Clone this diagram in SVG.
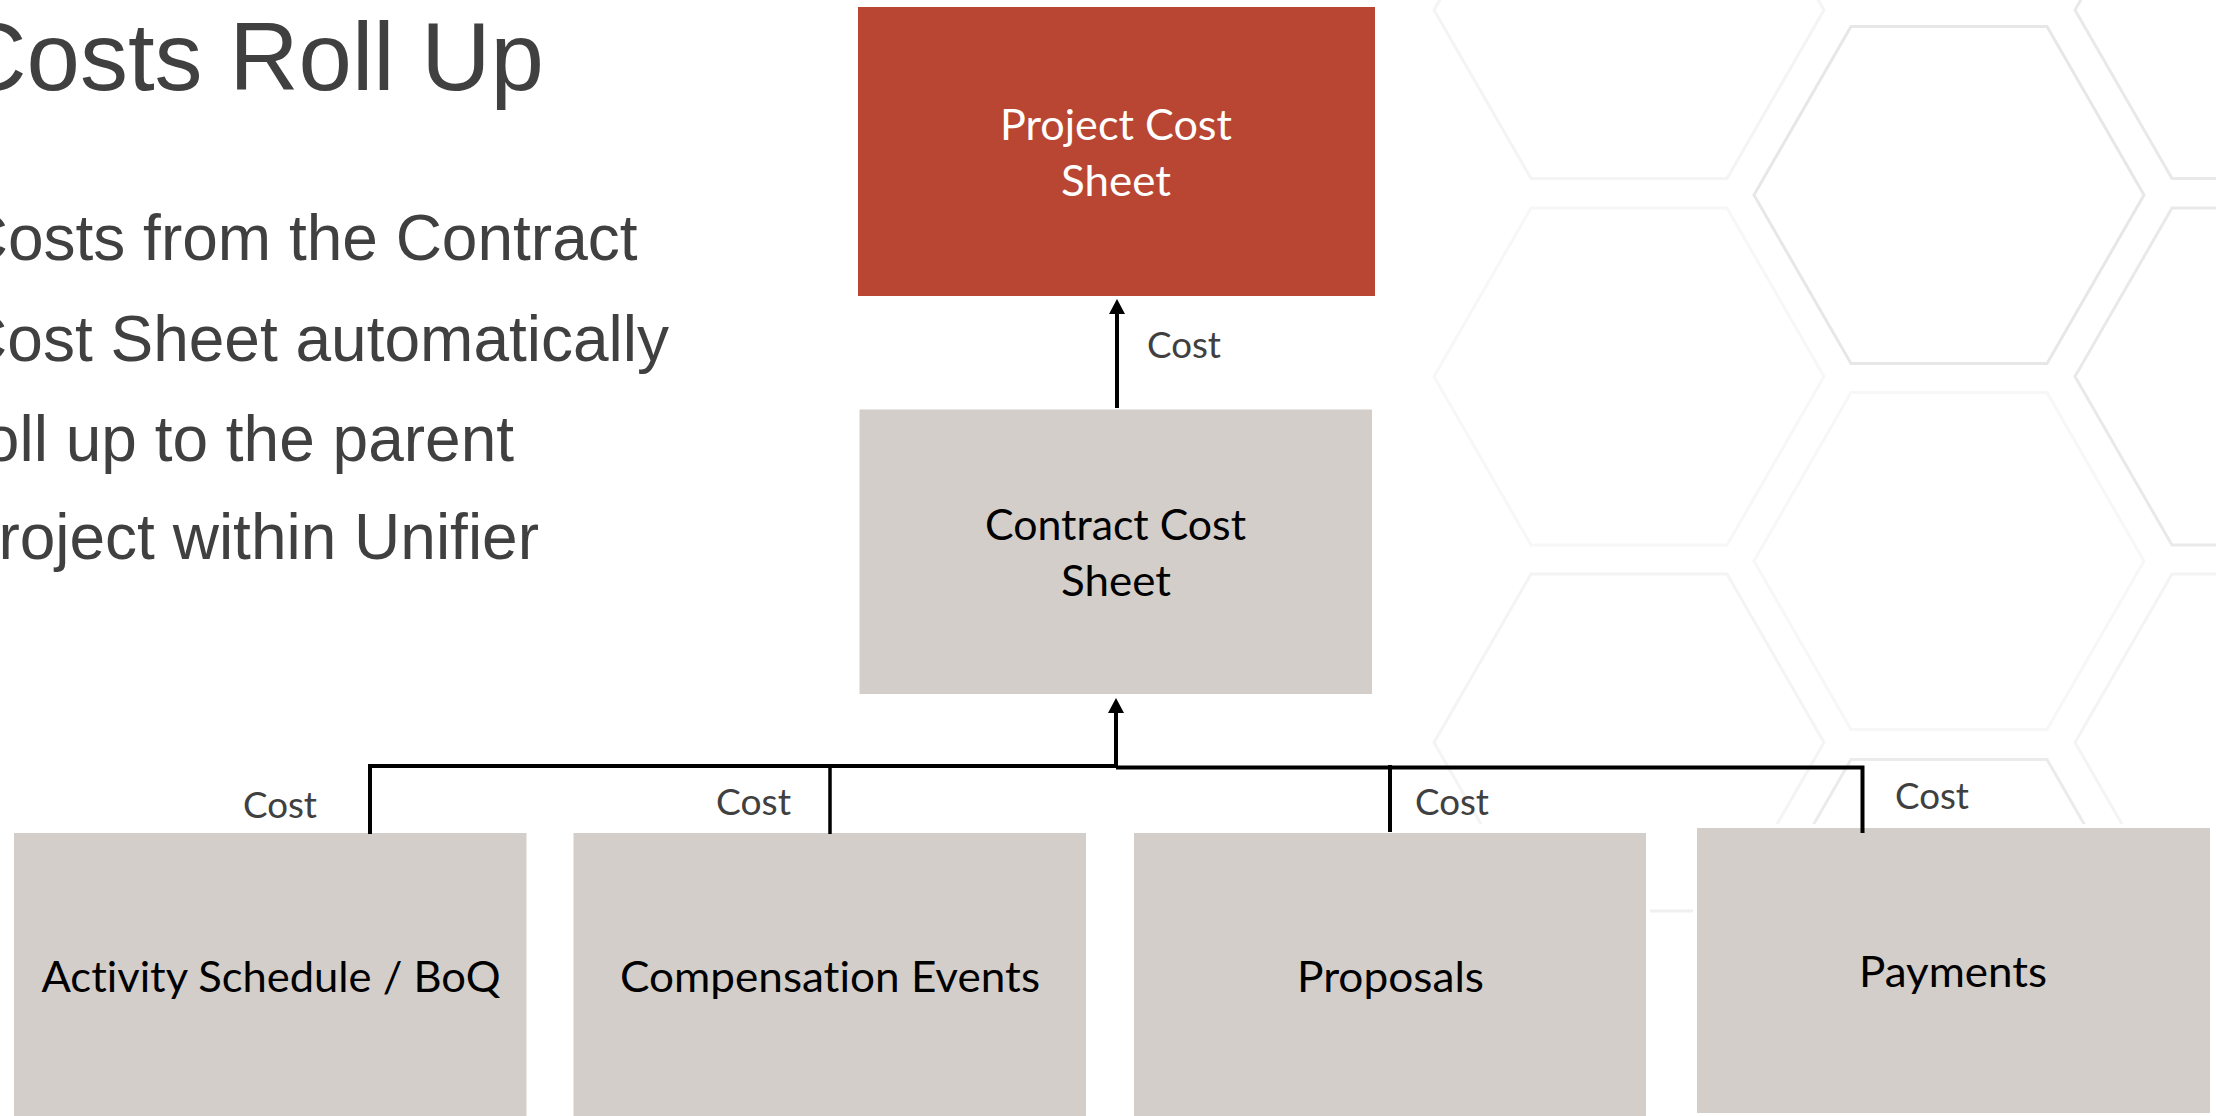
<svg xmlns="http://www.w3.org/2000/svg" width="2216" height="1116" viewBox="0 0 2216 1116">
<style>
.t{font-family:"Liberation Sans",Arial,sans-serif;fill:#404040;text-anchor:end}
.h1{font-size:96px}
.b{font-size:64px}
.n{font-family:Lato,"Open Sans",sans-serif;font-size:43px;fill:#000;font-variant-ligatures:none}
.w{fill:#fff}
.c{font-family:Lato,"Open Sans",sans-serif;font-size:37px;fill:#404040;font-variant-ligatures:none}
.box{fill:#d3cec9}
.hex{fill:none;stroke-width:3;stroke-linejoin:miter}
.l{fill:none;stroke:#000;stroke-width:4}
</style>
<defs>
<polygon id="hx" points="-195,0 -98,-168.5 98,-168.5 195,0 98,168.5 -98,168.5"/>
<marker id="ah" markerUnits="userSpaceOnUse" markerWidth="15" markerHeight="16" refX="5" refY="8" orient="auto" viewBox="0 0 15 16"><path d="M15 8L0 16V0Z" fill="#000"/></marker>
</defs>
<rect width="2216" height="1116" fill="#fff"/>
<g id="background">
<use href="#hx" x="1629" y="10" class="hex" stroke="#f4f4f4"/>
<use href="#hx" x="1629" y="376.5" class="hex" stroke="#f7f7f7"/>
<use href="#hx" x="1629" y="742.5" class="hex" stroke="#f4f4f4"/>
<use href="#hx" x="1949" y="195" class="hex" stroke="#e7e7e7"/>
<use href="#hx" x="1949" y="561" class="hex" stroke="#f7f7f7"/>
<use href="#hx" x="1949" y="928" class="hex" stroke="#ebebeb"/>
<use href="#hx" x="2270" y="10" class="hex" stroke="#e9e9e9"/>
<use href="#hx" x="2270" y="376.5" class="hex" stroke="#e9e9e9"/>
<use href="#hx" x="2270" y="742.5" class="hex" stroke="#f4f4f4"/>
<rect x="0" y="824" width="2216" height="292" fill="#fff"/>
<rect x="1650" y="909.5" width="43" height="3" fill="#f0f0f0"/>
</g>
<g id="title">
<text class="t h1" x="544" y="90">Costs Roll Up</text>
<text class="t b" x="637.5" y="260">Costs from the Contract</text>
<text class="t b" x="669" y="361">Cost Sheet automatically</text>
<text class="t b" x="514" y="460.5">roll up to the parent</text>
<text class="t b" x="539" y="559">project within Unifier</text>
</g>
<g id="project-cost-sheet">
<rect x="858" y="7" width="517" height="289" fill="#b94632"/>
<text class="n w" x="1000" y="140" textLength="232" lengthAdjust="spacingAndGlyphs">Project Cost</text>
<text class="n w" x="1061" y="196" textLength="110" lengthAdjust="spacingAndGlyphs">Sheet</text>
</g>
<g id="contract-cost-sheet">
<rect class="box" x="859.5" y="409.5" width="512.5" height="284.5"/>
<text class="n" x="985" y="540" textLength="261" lengthAdjust="spacingAndGlyphs">Contract Cost</text>
<text class="n" x="1061" y="596" textLength="110" lengthAdjust="spacingAndGlyphs">Sheet</text>
</g>
<g id="activity-schedule">
<rect class="box" x="14" y="833" width="512.5" height="283"/>
<text class="n" x="41.5" y="992" textLength="459" lengthAdjust="spacingAndGlyphs">Activity Schedule / BoQ</text>
</g>
<g id="compensation-events">
<rect class="box" x="573.5" y="833" width="512.5" height="283"/>
<text class="n" x="620" y="992" textLength="420" lengthAdjust="spacingAndGlyphs">Compensation Events</text>
</g>
<g id="proposals">
<rect class="box" x="1134" y="833" width="512" height="283"/>
<text class="n" x="1297" y="992" textLength="187" lengthAdjust="spacingAndGlyphs">Proposals</text>
</g>
<g id="payments">
<rect class="box" x="1697" y="828" width="513" height="285"/>
<text class="n" x="1859" y="987" textLength="188" lengthAdjust="spacingAndGlyphs">Payments</text>
</g>
<g id="connectors">
<path class="l" d="M1117 408V309" marker-end="url(#ah)"/>
<path class="l" d="M1116 767V708" marker-end="url(#ah)"/>
<path class="l" d="M370 834V766H1116"/>
<path class="l" d="M830 766V834" style="stroke-width:3.5"/>
<path class="l" d="M1116 767.5H1862.5V833"/>
<path class="l" d="M1390 765V832"/>
<text class="c" x="1147" y="358" textLength="74" lengthAdjust="spacingAndGlyphs">Cost</text>
<text class="c" x="243" y="818" textLength="74" lengthAdjust="spacingAndGlyphs">Cost</text>
<text class="c" x="716" y="815" textLength="75" lengthAdjust="spacingAndGlyphs">Cost</text>
<text class="c" x="1415" y="815" textLength="74" lengthAdjust="spacingAndGlyphs">Cost</text>
<text class="c" x="1895" y="809" textLength="74" lengthAdjust="spacingAndGlyphs">Cost</text>
</g>
</svg>
